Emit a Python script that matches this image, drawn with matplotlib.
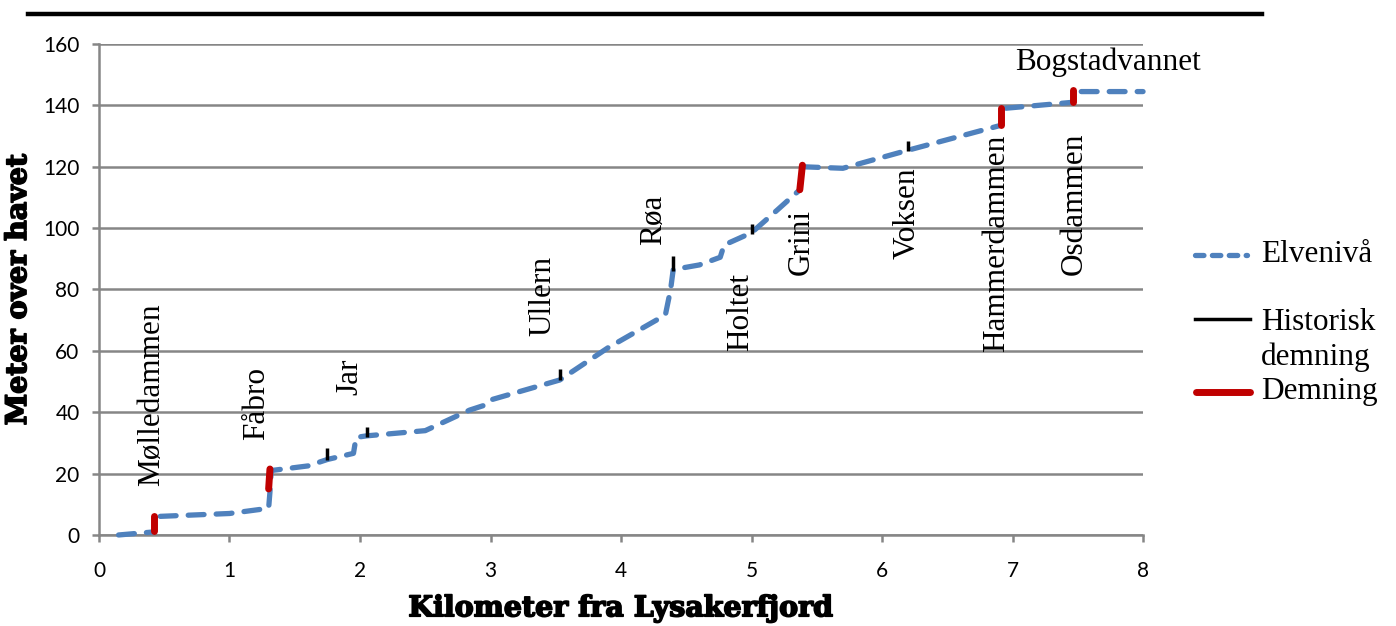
import matplotlib
matplotlib.use('Agg')
import matplotlib.pyplot as plt
import matplotlib.patheffects as pe
from matplotlib.lines import Line2D

# river profile (km from Lysakerfjord, meters above sea level)
river_km = [0.15, 0.42, 0.43, 1.0, 1.30, 1.31, 1.32, 1.6, 1.75, 1.95, 1.97, 2.05,
            2.5, 2.84, 2.97, 3.0, 3.53, 3.9, 4.34, 4.38, 4.40, 4.6, 4.76, 4.79,
            5.0, 5.2, 5.37, 5.39, 5.7, 6.2, 6.91, 6.93, 7.46, 7.48, 8.0]
river_m = [0.0, 1.0, 6.0, 7.0, 8.7, 14.0, 21.0, 22.5, 24.6, 26.6, 31.8, 32.3,
           34.0, 40.7, 42.5, 44.0, 50.5, 61.0, 71.7, 80.0, 86.5, 88.0, 90.5, 94.5,
           98.5, 106.0, 112.5, 120.0, 119.5, 125.4, 133.5, 139.0, 141.0, 144.5, 144.5]

# present dams: x bottom, x top, y bottom, y top
dam_x0 = [0.42, 1.30, 5.37, 6.91, 7.46]
dam_x1 = [0.42, 1.31, 5.39, 6.91, 7.46]
dam_y0 = [1.2, 15.0, 112.5, 133.5, 141.0]
dam_y1 = [6.3, 21.5, 120.5, 139.0, 145.0]

# historical dams
hist_x = [1.75, 2.05, 3.53, 4.40, 5.00, 6.20]
hist_y0 = [24.4, 31.8, 50.5, 86.0, 98.0, 125.0]
hist_y1 = [28.3, 35.2, 54.0, 91.0, 101.5, 128.5]

# vertical place names
names = ['Mølledammen', 'Fåbro', 'Jar', 'Ullern', 'Røa', 'Holtet', 'Grini',
         'Voksen', 'Hammerdammen', 'Osdammen']
name_x = [0.40, 1.21, 1.92, 3.40, 4.25, 4.92, 5.38, 6.19, 6.88, 7.47]
name_y = [16.0, 31.0, 45.6, 65.0, 94.5, 60.0, 84.7, 90.0, 59.6, 84.7]

x_ticks = [0, 1, 2, 3, 4, 5, 6, 7, 8]
y_ticks = [0, 20, 40, 60, 80, 100, 120, 140, 160]

blue = '#4F81BD'
red = '#C00000'
grid = '#868686'
serif = 'Liberation Serif'

fig = plt.figure(figsize=(13.96, 6.26), dpi=100)
ax = fig.add_axes([0.0709, 0.1454, 0.7479, 0.7843])

ax.set_xlim(0, 8)
ax.set_ylim(0, 160)
ax.set_yticks(y_ticks)
ax.set_xticks(x_ticks)
ax.yaxis.grid(True, color=grid, linewidth=1.8)
ax.set_axisbelow(True)
for s in ['top', 'right']:
    ax.spines[s].set_visible(False)
for s in ['left', 'bottom']:
    ax.spines[s].set_color(grid)
    ax.spines[s].set_linewidth(1.8)
ax.tick_params(axis='both', color=grid, width=1.8, length=5,
               labelsize=15, labelcolor='black')
ax.tick_params(axis='y', pad=9)
ax.tick_params(axis='x', pad=14)
for lab in ax.get_xticklabels() + ax.get_yticklabels():
    lab.set_fontfamily('Lato')

ax.plot(river_km, river_m, color=blue, linewidth=3.8, dashes=[3, 2.3],
        dash_capstyle='round', solid_capstyle='round', zorder=3, clip_on=False)
for i in range(len(dam_x0)):
    ax.plot([dam_x0[i], dam_x1[i]], [dam_y0[i], dam_y1[i]], color=red,
            linewidth=5, solid_capstyle='round', zorder=4)
for i in range(len(hist_x)):
    ax.plot([hist_x[i], hist_x[i]], [hist_y0[i], hist_y1[i]], color='black',
            linewidth=2.5, solid_capstyle='butt', zorder=4)

for n, x, y in zip(names, name_x, name_y):
    ax.text(x, y, n, rotation=90, ha='center', va='bottom', fontsize=22.5,
            family=serif, zorder=5)
ax.text(7.73, 151.5, 'Bogstadvannet', ha='center', va='baseline',
        fontsize=22.5, family=serif, zorder=5)

heavy = [pe.withStroke(linewidth=1.2, foreground='black')]
ax.set_xlabel('Kilometer fra Lysakerfjord', family='DejaVu Serif',
              fontweight='bold', fontsize=20.5, labelpad=10, path_effects=heavy)
ax.set_ylabel('Meter over havet', family='DejaVu Serif',
              fontweight='bold', fontsize=20.5, labelpad=8, path_effects=heavy)

# legend drawn by hand to keep the first-line alignment
def fx(px):
    return px / 1396.0

def fy(py):
    return 1 - py / 626.0

fig.add_artist(Line2D([fx(1195), fx(1247)], [fy(255), fy(255)], color=blue,
                      linewidth=3.8, dashes=[1.6, 1.6], dash_capstyle='round'))
fig.add_artist(Line2D([fx(1195), fx(1250)], [fy(319), fy(319)], color='black',
                      linewidth=2.5))
fig.add_artist(Line2D([fx(1196), fx(1250)], [fy(392), fy(392)], color=red,
                      linewidth=5, solid_capstyle='round'))
fig.text(fx(1261), fy(255), 'Elvenivå', va='center', fontsize=22.5, family=serif)
fig.text(fx(1261), fy(322), 'Historisk', va='center', fontsize=22.5, family=serif)
fig.text(fx(1261), fy(357), 'demning', va='center', fontsize=22.5, family=serif)
fig.text(fx(1261), fy(392), 'Demning', va='center', fontsize=22.5, family=serif)

# heavy rule at the top
fig.add_artist(Line2D([fx(28), fx(1262)], [fy(14), fy(14)], color='black',
                      linewidth=3.2))

fig.savefig('out.png', dpi=100)
